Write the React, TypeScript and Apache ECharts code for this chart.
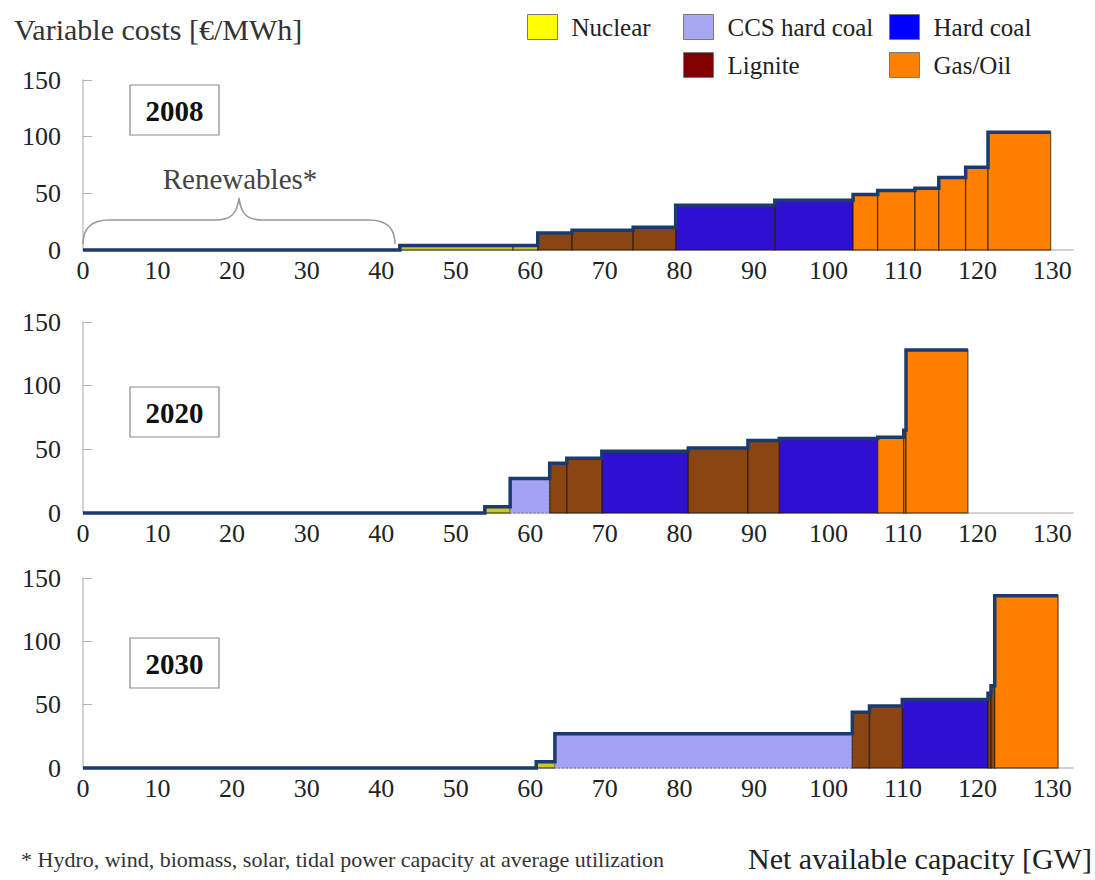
import React, { useEffect, useRef } from "react";
import * as echarts from "echarts";

// ---- data: [start GW, end GW, variable cost €/MWh] ----
const fuels = ["Nuclear", "CCS hard coal", "Hard coal", "Lignite", "Gas/Oil"];

const renew2008 = [[0, 42.5, 0]];
const nuclear2008 = [[42.5, 57.7, 4], [57.7, 61, 4]];
const ccs2008: number[][] = [];
const lignite2008 = [[61, 65.6, 15], [65.6, 73.8, 17.5], [73.8, 79.5, 20]];
const hardcoal2008 = [[79.5, 92.8, 39.5], [92.8, 103.3, 44]];
const gas2008 = [[103.3, 106.6, 49], [106.6, 111.6, 52.5], [111.6, 114.8, 54.5], [114.8, 118.4, 64], [118.4, 121.4, 73], [121.4, 129.8, 104]];

const renew2020 = [[0, 53.9, 0]];
const nuclear2020 = [[53.9, 57.3, 5]];
const ccs2020 = [[57.3, 62.6, 27]];
const lignite2020 = [[62.6, 64.9, 39], [64.9, 69.6, 43], [81.2, 89.2, 51], [89.2, 93.4, 57]];
const hardcoal2020 = [[69.6, 81.2, 48.5], [93.4, 106.6, 58.5]];
const gas2020 = [[106.6, 110.1, 59.5], [110.1, 110.4, 65], [110.4, 118.7, 128]];

const renew2030 = [[0, 60.8, 0]];
const nuclear2030 = [[60.8, 63.3, 5]];
const ccs2030 = [[63.3, 103.2, 27]];
const lignite2030 = [[103.2, 105.5, 44], [105.5, 109.9, 49], [121.4, 121.8, 59], [121.8, 122.3, 65]];
const hardcoal2030 = [[109.9, 121.4, 54]];
const gas2030 = [[122.3, 130.8, 136]];

const years = ["2008", "2020", "2030"];
const yTicks = [0, 50, 100, 150];
const xTickStep = 10;

const panels = [
  { renew: renew2008, fuel: { "Nuclear": nuclear2008, "CCS hard coal": ccs2008, "Hard coal": hardcoal2008, "Lignite": lignite2008, "Gas/Oil": gas2008 } },
  { renew: renew2020, fuel: { "Nuclear": nuclear2020, "CCS hard coal": ccs2020, "Hard coal": hardcoal2020, "Lignite": lignite2020, "Gas/Oil": gas2020 } },
  { renew: renew2030, fuel: { "Nuclear": nuclear2030, "CCS hard coal": ccs2030, "Hard coal": hardcoal2030, "Lignite": lignite2030, "Gas/Oil": gas2030 } },
];

const barColors: Record<string, string> = {
  "Nuclear": "#c9c81c",
  "CCS hard coal": "#a3a3f6",
  "Hard coal": "#3010d0",
  "Lignite": "#8b4513",
  "Gas/Oil": "#ff8000",
};
const legendColors: Record<string, string> = {
  "Nuclear": "#ffff00",
  "CCS hard coal": "#a8a8f2",
  "Hard coal": "#0000ff",
  "Lignite": "#800000",
  "Gas/Oil": "#ff8000",
};

const SERIF = "Liberation Serif, Times New Roman, serif";

const braceD =
  "M0,46 C0,30 8,22 26,22 L132,22 C148,22 154,16 156,0 C158,16 164,22 180,22 L286,22 C304,22 312,30 312,46";
let braceRegistered = false;

export default function App() {
  const ref = useRef<HTMLDivElement>(null);
  useEffect(() => {
    if (!ref.current) return;
    if (!braceRegistered) {
      echarts.graphic.registerShape("brace", echarts.graphic.extendPath(braceD, {}) as any);
      braceRegistered = true;
    }
    const chart = echarts.init(ref.current, undefined, { renderer: "svg" });

    const gridDefs = [
      { top: 80, height: 170 },
      { top: 322, height: 191 },
      { top: 578, height: 190 },
    ];
    const grid = gridDefs.map((g) => ({ left: 83, right: 22, top: g.top, height: g.height, containLabel: false }));
    const xAxis = gridDefs.map((_, i) => ({
      type: "value",
      gridIndex: i,
      min: 0,
      max: 132.8,
      interval: xTickStep,
      splitLine: { show: false },
      axisTick: { show: false },
      axisLine: { show: true, lineStyle: { color: "#c4c4c4", width: 1.5 } },
      axisLabel: { showMaxLabel: false, margin: 7, fontFamily: SERIF, fontSize: 26, color: "#222" },
    }));
    const yAxis = gridDefs.map((_, i) => ({
      type: "value",
      gridIndex: i,
      min: yTicks[0],
      max: yTicks[yTicks.length - 1],
      interval: 50,
      splitLine: { show: false },
      axisTick: { show: true, inside: true, length: 9, lineStyle: { color: "#b0b0b0" } },
      axisLine: { show: true, lineStyle: { color: "#c4c4c4", width: 1.5 } },
      axisLabel: { margin: 22, fontFamily: SERIF, fontSize: 26, color: "#222" },
    }));

    const series: any[] = [];
    panels.forEach((p, i) => {
      fuels.forEach((f) => {
        const data = (p.fuel as any)[f] as number[][];
        series.push({
          type: "custom",
          name: f,
          xAxisIndex: i,
          yAxisIndex: i,
          itemStyle: { color: barColors[f] },
          encode: { x: [0, 1], y: 2 },
          data,
          z: 2,
          renderItem: (params: any, api: any) => {
            const p0 = api.coord([api.value(0), api.value(2)]);
            const p1 = api.coord([api.value(1), 0]);
            return {
              type: "rect",
              shape: { x: p0[0], y: p0[1], width: p1[0] - p0[0], height: p1[1] - p0[1] },
              style: {
                fill: barColors[f],
                stroke: f === "CCS hard coal" ? "#6a6aa8" : "rgba(30,20,10,0.6)",
                lineWidth: f === "CCS hard coal" ? 1 : 1.4,
                lineDash: f === "CCS hard coal" ? [2, 2] : undefined,
              },
            };
          },
        });
      });
      // top envelope (merit-order curve)
      const all: number[][] = [...p.renew];
      fuels.forEach((f) => all.push(...((p.fuel as any)[f] as number[][])));
      all.sort((a, b) => a[0] - b[0]);
      const pts: number[][] = [];
      all.forEach((b) => {
        pts.push([b[0], b[2]]);
        pts.push([b[1], b[2]]);
      });
      series.push({
        type: "line",
        name: "curve" + i,
        xAxisIndex: i,
        yAxisIndex: i,
        data: pts,
        symbol: "none",
        clip: false,
        z: 5,
        lineStyle: { color: "#1b3b6e", width: 3.5, join: "miter" },
      });
    });

    const legendBase = {
      selectedMode: false,
      itemWidth: 30,
      itemHeight: 25,
      itemGap: 12,
      icon: "rect",
      textStyle: { fontFamily: SERIF, fontSize: 25, color: "#222", padding: [0, 0, 0, 9] },
      padding: 0,
    };
    const legItem = (n: string) => ({
      name: n,
      itemStyle: { color: legendColors[n], borderColor: "#7a7a7a", borderWidth: 1 },
    });

    const yearBoxes = [
      { y: 85, label: years[0] },
      { y: 387, label: years[1] },
      { y: 638, label: years[2] },
    ];

    const graphic: any[] = [
      {
        type: "text",
        left: 14,
        top: 14,
        style: { text: "Variable costs [€/MWh]", fontFamily: SERIF, fontSize: 30, fill: "#333" },
      },
      ...yearBoxes.flatMap((b) => [
        {
          type: "rect",
          shape: { x: 130, y: b.y, width: 89, height: 50 },
          style: { fill: "#fff", stroke: "#8a8a8a", lineWidth: 1.2 },
          z: 10,
        },
        {
          type: "text",
          x: 174.5,
          y: b.y + 26,
          style: {
            text: b.label,
            fontFamily: SERIF,
            fontSize: 29,
            fontWeight: "bold",
            fill: "#111",
            align: "center",
            verticalAlign: "middle",
          },
          z: 11,
        },
      ]),
      {
        type: "brace",
        x: 83,
        y: 198,
        style: { stroke: "#9a9a9a", fill: "none", lineWidth: 1.6 },
        z: 10,
      },
      {
        type: "text",
        x: 240,
        y: 179,
        style: {
          text: "Renewables*",
          fontFamily: SERIF,
          fontSize: 29,
          fill: "#444",
          align: "center",
          verticalAlign: "middle",
        },
        z: 10,
      },
      {
        type: "text",
        left: 21,
        top: 848,
        style: {
          text: "* Hydro, wind, biomass, solar, tidal power capacity at average utilization",
          fontFamily: SERIF,
          fontSize: 22,
          fill: "#333",
        },
      },
      {
        type: "text",
        left: 748,
        top: 843,
        style: { text: "Net available capacity [GW]", fontFamily: SERIF, fontSize: 30, fill: "#222" },
      },
    ];

    chart.setOption({
      animation: false,
      backgroundColor: "#fff",
      grid,
      xAxis,
      yAxis,
      series,
      graphic,
      legend: [
        { ...legendBase, left: 527, top: 14, data: [legItem("Nuclear")] },
        { ...legendBase, left: 683, top: 14, orient: "vertical", data: [legItem("CCS hard coal"), legItem("Lignite")] },
        { ...legendBase, left: 889, top: 14, orient: "vertical", data: [legItem("Hard coal"), legItem("Gas/Oil")] },
      ],
    });
    return () => chart.dispose();
  }, []);
  return <div ref={ref} style={{ position: "absolute", left: 0, top: 0, width: 1095, height: 880 }} />;
}
